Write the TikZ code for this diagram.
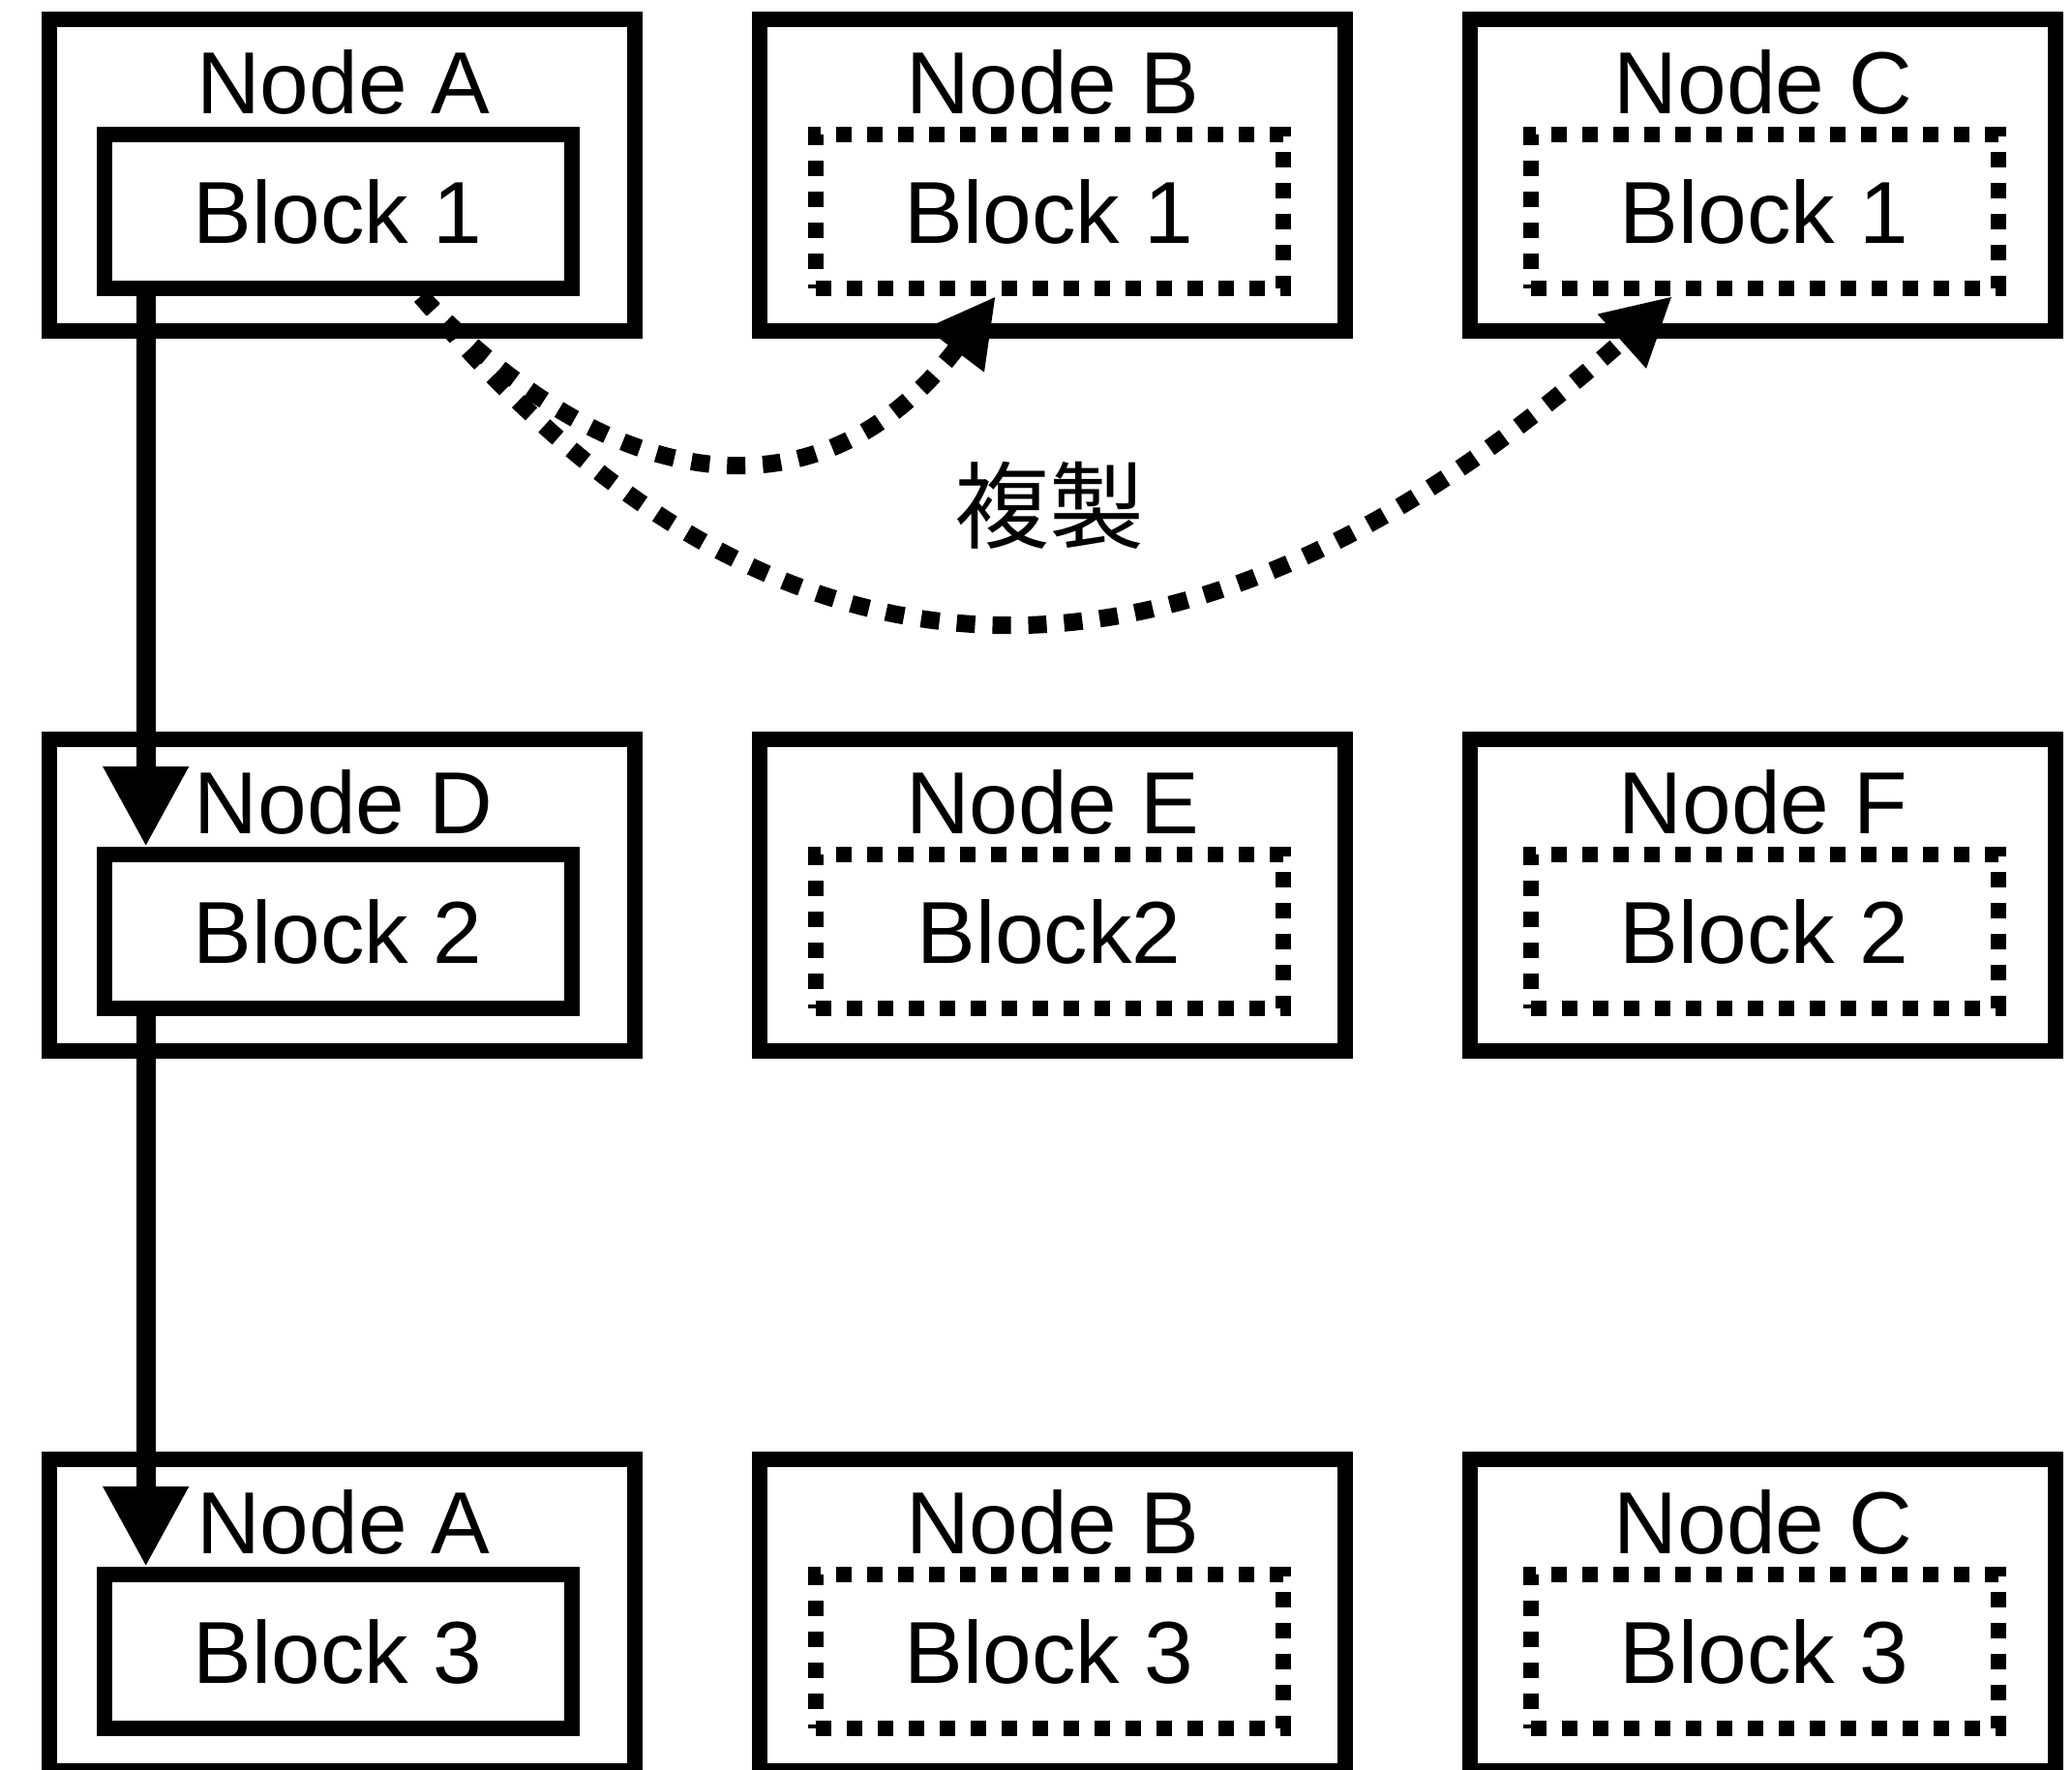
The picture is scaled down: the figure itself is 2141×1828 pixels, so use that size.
\documentclass[tikz,border=0pt]{standalone}
\usepackage{fontspec}
\setmainfont{Liberation Sans}
\newfontfamily\cjkfont{Noto Sans CJK JP}
\usetikzlibrary{arrows.meta}
\begin{document}
\begin{tikzpicture}[x=1pt,y=-1pt,
  outerbox/.style={draw, line width=16pt, minimum width=605pt, minimum height=322pt, inner sep=0pt},
  solidblock/.style={draw, line width=16pt, minimum width=483pt, minimum height=159pt, inner sep=0pt, font=\fontsize{91}{100}\selectfont},
  dotblock/.style={solidblock, dash pattern=on 16pt off 16pt},
  title/.style={font=\fontsize{91}{100}\selectfont, inner sep=0pt},
  flow/.style={line width=20pt, -{Triangle[length=83pt,width=83pt]}},
  copyline/.style={line width=18pt, dash pattern=on 19pt off 18pt, -{Triangle[length=70pt,width=70pt]}}
]
\useasboundingbox (0,0) rectangle (2141,1828);
% row 1
\node[outerbox] (na) at (353,181) {};
\node[outerbox] (nb) at (1087,181) {};
\node[outerbox] (nc) at (1821,181) {};
\node[title] (ta) at (355,85.3) {Node A};
\node[title] (tb) at (1088,85.3) {Node B};
\node[title] (tc) at (1822,85.3) {Node C};
\node[solidblock] (a1) at (349,218.5) {Block 1};
\node[dotblock] (b1) at (1084,218.5) {Block 1};
\node[dotblock] (c1) at (1823,218.5) {Block 1};
% row 2
\node[outerbox] (nd) at (353,925) {};
\node[outerbox] (ne) at (1087,925) {};
\node[outerbox] (nf) at (1821,925) {};
\node[title] (td) at (355,829.3) {Node D};
\node[title] (te) at (1088,829.3) {Node E};
\node[title] (tf) at (1822,829.3) {Node F};
\node[solidblock] (d2) at (349,962.5) {Block 2};
\node[dotblock] (e2) at (1084,962.5) {Block2};
\node[dotblock] (f2) at (1823,962.5) {Block 2};
% row 3
\node[outerbox] (ga) at (353,1669) {};
\node[outerbox] (gb) at (1087,1669) {};
\node[outerbox] (gc) at (1821,1669) {};
\node[title] (tga) at (355,1573.3) {Node A};
\node[title] (tgb) at (1088,1573.3) {Node B};
\node[title] (tgc) at (1822,1573.3) {Node C};
\node[solidblock] (a3) at (349,1706.5) {Block 3};
\node[dotblock] (b3) at (1084,1706.5) {Block 3};
\node[dotblock] (c3) at (1823,1706.5) {Block 3};
% label
\node[inner sep=0pt, font=\cjkfont\fontsize{98}{100}\selectfont] (copy) at (1084,522) {複製};
% connectors
\draw[flow] ([xshift=-198.3pt]a1.south) -- ([xshift=-198.3pt]d2.north);
\draw[flow] ([xshift=-198.3pt]d2.south) -- ([xshift=-198.3pt]a3.north);
\draw[copyline] ([xshift=86pt]a1.south) .. controls (650,530) and (860,530) .. ([xshift=-55pt]b1.south);
\draw[copyline] ([xshift=86pt]a1.south) .. controls (805,752) and (1230,752) .. ([xshift=-95pt]c1.south);
\end{tikzpicture}
\end{document}
